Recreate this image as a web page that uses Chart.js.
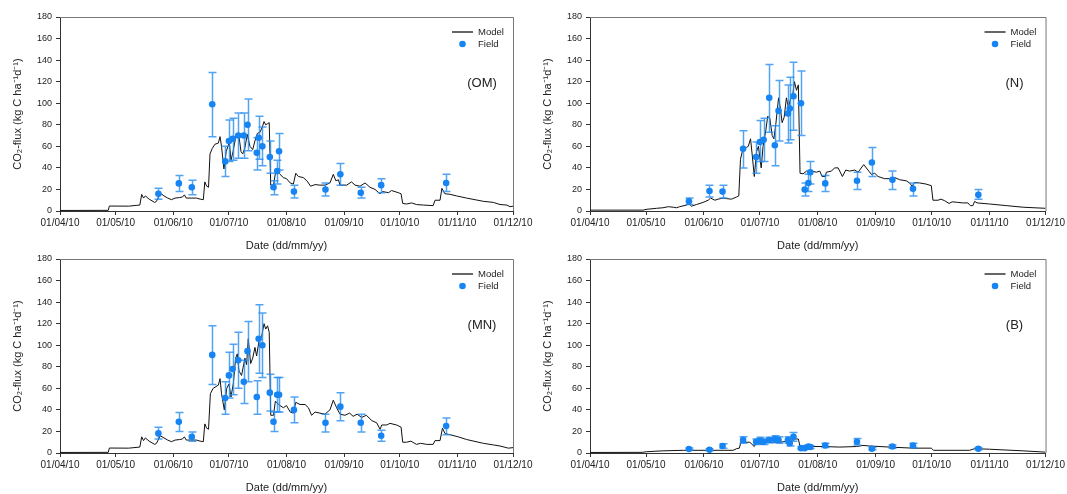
<!DOCTYPE html>
<html><head><meta charset="utf-8">
<script src="https://cdn.jsdelivr.net/npm/chart.js@4"></script>
<style>
body{margin:0;background:#fff;width:1067px;height:494px;overflow:hidden;position:relative}
canvas{position:absolute;display:block}
</style></head><body>
<canvas id="c1" width="537" height="253" style="left:0;top:0"></canvas>
<canvas id="c2" width="537" height="253" style="left:530px;top:0"></canvas>
<canvas id="c3" width="537" height="253" style="left:0;top:242px"></canvas>
<canvas id="c4" width="537" height="253" style="left:530px;top:242px"></canvas>
<script>
// ---- tick labels (x in days since 01/04/10) ----
const xTickDays = [0, 30, 61, 91, 122, 153, 183, 214, 244];
const xTickLabels = ['01/04/10','01/05/10','01/06/10','01/07/10','01/08/10','01/09/10','01/10/10','01/11/10','01/12/10'];
const yTicks = [0,20,40,60,80,100,120,140,160,180];

// ---- field sampling dates (days since 01/04/10) ----
const fieldDays = [53,64,71,82,89,91,93,96,99,101,106,107,109,113,115,117,118,126,143,151,162,173,208];

// ---- (OM) ----
const omField = [16,25.6,22,99,46,65,67,70,70,80,54,68,60,50,22,37,55.5,18,20,34,17,24,26];
const omHi    = [21,33,28.5,128.5,60,84.5,86,91,91,104,68,88,78,65,28,47,72,24,26,44,22,30,34];
const omLo    = [11,18,15,69,32,46,47,49,49,56,38,48,42,35,15,25,38,12,14,24,12,17,18];
const omModelDays = [0,26,26.6,37,41,43,44,45,46,48,51,52,54,56,58,60,62,64.5,66,67,68,71,73.5,75.5,77.2,78,79,80,80.8,82,83.5,85.3,86.2,87,88.3,89.5,91.2,92.1,93.2,94.8,96.2,97.5,98.4,99.5,100.9,102.3,103.8,105,106.3,107.7,109,109.9,110.8,111.8,112.7,113.5,115,116.3,118.5,120.3,122,124,125.7,127,128.4,131,133,135,137.4,140,142.7,145.4,147.2,148.6,150,150.8,154.4,157,158.9,161.6,164.3,167,169.7,172.4,173.8,177,178.6,182.2,183.7,184.6,186.7,189.4,192,195.7,201,202,204.7,205.7,207.3,210,213.6,219,228,233.4,237,240.7,242.4,244];
const omModelVals = [0.5,0.6,4.6,4.5,5.2,5.5,15.4,12,14,11,8,9,16.5,14,12,10.5,12,12.5,13,15,12,12,12,11,10.5,27,23,22,53,58,62,63,69,60,39,55,64,47,55,70,72,55,53,58,71,60,57,65,72,73,78,83,80,81,82,24,24,38,34,31,30,26,25,35,32,31,28,23,24.5,24,24,26,34,28,29,24,24,27,24,23,26,22,20,16,18,17,19,17,16,7,6.5,7.5,6,5.5,5,10,10,21,16,15.5,14,12,9,8,6,5.5,4,4.5];

// ---- (N) ----
const nField = [9,18.5,18,57.7,50,64,66,105,61,93,90.5,95,106.5,100,20,26,36,25.6,28,45,29,20.7,15];
const nHi    = [12,24,24,74.5,64,84,86,136,79,121,117,124,138,130,26,34,46,33,36,59,37,26,20];
const nLo    = [6,13,12,40,35,46,46,73,42,65,63,66,75,70,14,18,25,18,20,32,20,14,11];
const nModelDays = [0,28.5,30,35.7,39,42,44.6,46.4,48,51.7,53,54.4,57,60.6,63.3,64.6,66.9,68.7,71.3,73,75.8,78.5,79.7,80.6,81.7,83.8,84.8,86,87,88,89.2,90.2,91.7,92.7,94.2,95.2,96.3,97.6,98.5,99.5,101,102,102.9,104,105.2,106.3,107.4,108.4,109.5,110.6,111.6,112.5,114.1,116,118.6,121.3,123.1,124.3,126,126.6,129.3,131,132.9,135.2,137,139.1,141.8,143.6,146.6,148.9,150.7,152.5,154.3,157.8,160.5,163.2,165.9,169.4,171.2,172.5,173.9,176.6,180,182.8,183.7,186.4,188,190,192.3,194,197,199.7,202.4,203.7,205.1,206,207.3,214,223,232,244];
const nModelVals = [0.8,0.8,1.5,2.5,3,4,3.5,3,4,5.5,6.5,4.5,6,8,10,12,10,11,12,11.5,11,13,14,48,56,59,60,67,50,32,55,60,40,60,75,88,86,70,67,80,105,95,82,87,105,96,104,105,120,112,117,35,34.5,37,37,36,37,32,32,36,37,40,40,32,38,37,38,36,43,38,34,35,32,30,30,31,29,28,26,23,26.5,26,25,23.5,10,10,11,9.5,7,8.5,8,7.5,7.5,5,5,9,7.5,6.5,5,3.5,2.5];

// ---- (MN) ----
const mnField = [18.2,29,15,91,51,72,78,86,66,94.5,52,106,100,56,29,54,54,40,28,43,28,16,25];
const mnHi    = [24,37.5,19.5,118,66,93.5,101,112,86,122,67,137.5,130,73,38,70,70,52,36,56,36,21,32.5];
const mnLo    = [13,20,11,63.5,36,51,54,60,46,66,36,74,70,39,20,38,38,28,19.5,30,19.5,11,17];
const mnModelDays = [0,26,26.6,37,43,44,45,46,48,51,52,54,56,58,60,62,64.5,66,67,68,71,73.5,75.5,77.2,78,79,80,81,82.5,85.3,86.2,87,88.5,89.8,91,92.1,93.4,94.6,95.5,96.4,97.8,99.6,100.5,101.4,102.7,103.8,105,105.9,107.2,108.6,109.9,110.8,111.8,112.7,113.5,115,116,118.5,120.3,122,124,125.7,127,129.3,132,133.8,135.5,137.4,140,142.7,145.4,147.2,149,150.8,153.5,156,157.9,160,162.5,165,168,170.6,172.4,173.3,176,177.7,181.3,183.7,184.6,186.7,189,192,194.2,197.5,201,202,204.7,206,207.4,210,214.5,219,228,233.4,237,241.5,244];
const mnModelVals = [0.5,0.6,4.6,4.5,5.5,15,11.5,14,11,8,9,16,14,12,10.5,12,12.5,13,15,12,12,12,11,10.5,27,23,22,55,60,63,69,55,40,60,64,52,65,88,92,76,72,88,82,106,83,88,98,90,104,108,120,115,118,112,35,35,48,44,42,44,38,37,47,45,45,42,35,38,37,36,40,49,42,36,35,37,34,36,33,35,30,28,22,26,26,27.5,26,24,10,10,11,8,9,8,8,11.5,11.5,23,18,17,15,12.5,9,7.5,6.5,4.5,5];

// ---- (B) ----
const bField = [3.7,3,6.5,12,10.5,11.5,10.5,12,13,12,12,9,15,4.5,4.5,6,5.5,7,10.5,4,6,7,4];
const bHi    = [4.7,4,8.5,15,13,14.5,13,14.5,16,15,15,11.5,19,5.5,5.5,7.5,7,9,13.5,5,7.5,9,5];
const bLo    = [2.7,2,4.5,9,8,8.5,8,9.5,10,9,9,6.5,11,3.5,3.5,4.5,4,5,7.5,3,4.5,5,3];
const bModelDays = [0,28,30.3,39,50,62.4,76.7,78.5,80,80.8,85.6,88,89.2,91.7,94.5,98,101.7,106,109.7,111.6,112.5,116,124.8,133.8,142.7,146.2,149.8,160.5,173,182.8,184,203.3,206,214,232,244];
const bModelVals = [0.5,0.6,1.2,2,2.5,2.5,2.5,4,4.5,10,10,6,10,8,10,9.5,10,11,13,13,6,6,6,5.5,6,7,6.5,5.5,4.5,4.5,2.5,2.5,4,3.5,2,0.8];

const FONT = 'Arial, "Liberation Sans", sans-serif';
const TXT = '#222';
const DOT = '#1684f2';
const ERR = 'rgba(40,140,240,0.8)';

const errorBars = {
  id: 'errorBars',
  beforeDatasetDraw(chart, args) {
    if (args.index !== 0) return;
    const ds = chart.data.datasets[0];
    const x = chart.scales.x, y = chart.scales.y;
    const ctx = chart.ctx;
    ctx.save();
    ctx.strokeStyle = ERR; ctx.lineWidth = 1.5;
    ds.data.forEach((p, i) => {
      const px = Math.round(x.getPixelForValue(p.x)) + 0.5;
      const yh = y.getPixelForValue(ds.hi[i]);
      const yl = y.getPixelForValue(ds.lo[i]);
      ctx.beginPath();
      ctx.moveTo(px, yh); ctx.lineTo(px, yl);
      ctx.moveTo(px - 4, yh); ctx.lineTo(px + 4, yh);
      ctx.moveTo(px - 4, yl); ctx.lineTo(px + 4, yl);
      ctx.stroke();
    });
    ctx.restore();
  }
};

const decor = {
  id: 'decor',
  afterDraw(chart, args, opts) {
    const ctx = chart.ctx, a = chart.chartArea;
    ctx.save();
    // frame top/right
    ctx.strokeStyle = '#777'; ctx.lineWidth = 1;
    ctx.beginPath();
    ctx.moveTo(a.left, a.top + 0.5); ctx.lineTo(a.right + 0.5, a.top + 0.5); ctx.lineTo(a.right + 0.5, a.bottom);
    ctx.stroke();
    // legend
    const lx = a.right - 61, ly1 = a.top + 15, ly2 = a.top + 27;
    ctx.strokeStyle = '#333'; ctx.lineWidth = 1.5;
    ctx.beginPath(); ctx.moveTo(lx, ly1); ctx.lineTo(lx + 21, ly1); ctx.stroke();
    ctx.fillStyle = DOT;
    ctx.beginPath(); ctx.arc(lx + 10.5, ly2, 3.3, 0, Math.PI * 2); ctx.fill();
    ctx.fillStyle = TXT; ctx.font = '9.5px ' + FONT; ctx.textBaseline = 'middle'; ctx.textAlign = 'left';
    ctx.fillText('Model', a.right - 35, ly1);
    ctx.fillText('Field', a.right - 35, ly2);
    // panel label
    ctx.font = '13px ' + FONT; ctx.textAlign = 'center';
    ctx.fillText(opts.label, a.right - 31, a.top + 66);
    ctx.restore();
  }
};

function makeChart(id, label, fieldVals, hi, lo, mDays, mVals, padRight) {
  return new Chart(document.getElementById(id), {
    type: 'line',
    data: {
      datasets: [
        {
          label: 'Field', type: 'scatter', order: 0,
          data: fieldDays.map((d, i) => ({x: d, y: fieldVals[i]})),
          hi: hi, lo: lo,
          pointRadius: 3.3, pointBackgroundColor: DOT, pointBorderWidth: 0, showLine: false
        },
        {
          label: 'Model', type: 'line', order: 1,
          data: mDays.map((d, i) => ({x: d, y: mVals[i]})),
          borderColor: '#111', borderWidth: 1, pointRadius: 0, tension: 0, fill: false
        }
      ]
    },
    options: {
      responsive: false, animation: false, devicePixelRatio: 1,
      layout: {padding: {top: 17, right: padRight, left: 0, bottom: 0}},
      plugins: {legend: {display: false}, tooltip: {enabled: false}, decor: {label: label}},
      scales: {
        x: {
          type: 'linear', min: 0, max: 244,
          afterBuildTicks: s => { s.ticks = xTickDays.map(v => ({value: v})); },
          afterFit: s => { s.height = 42; },
          ticks: {autoSkip: false, maxRotation: 0, padding: 2, color: TXT, font: {family: FONT, size: 10},
                  callback: v => xTickLabels[xTickDays.indexOf(v)]},
          grid: {drawOnChartArea: false, tickLength: 4, color: '#333'},
          border: {color: '#333'},
          title: {display: true, text: 'Date (dd/mm/yy)', color: TXT, font: {family: FONT, size: 11}, padding: {top: 0, bottom: 0}}
        },
        y: {
          min: 0, max: 180,
          afterBuildTicks: s => { s.ticks = yTicks.map(v => ({value: v})); },
          afterFit: s => { s.width = 60; },
          ticks: {padding: 4, color: TXT, font: {family: FONT, size: 9}},
          grid: {drawOnChartArea: false, tickLength: 4, color: '#333'},
          border: {color: '#333'},
          title: {display: true, text: 'CO\u2082-flux (kg C ha\u207B\u00B9d\u207B\u00B9)', color: TXT, font: {family: FONT, size: 11}, padding: {top: 11, bottom: 0}}
        }
      }
    },
    plugins: [errorBars, decor]
  });
}

makeChart('c1', '(OM)', omField, omHi, omLo, omModelDays, omModelVals, 24);
makeChart('c2', '(N)', nField, nHi, nLo, nModelDays, nModelVals, 21);
makeChart('c3', '(MN)', mnField, mnHi, mnLo, mnModelDays, mnModelVals, 24);
makeChart('c4', '(B)', bField, bHi, bLo, bModelDays, bModelVals, 21);
</script>
</body></html>
